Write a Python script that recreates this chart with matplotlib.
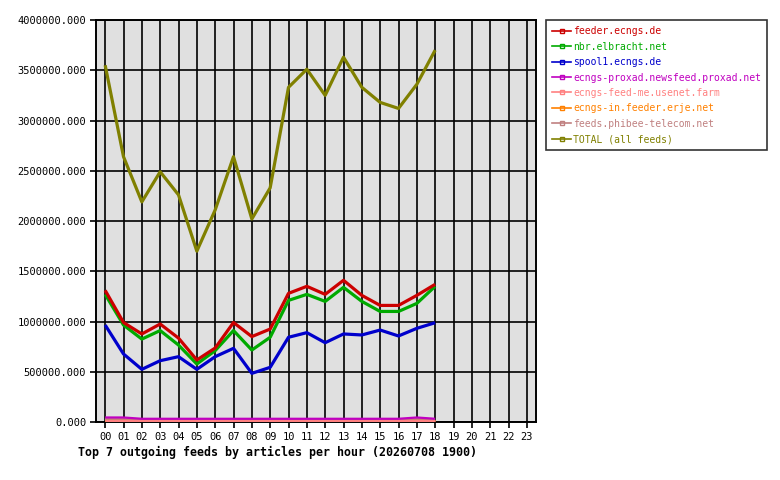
import matplotlib
matplotlib.use('Agg')
import matplotlib.pyplot as plt
from matplotlib.lines import Line2D

hours = list(range(19))
hour_labels = ['%02d' % h for h in range(24)]

feeder_ecngs = [1310000, 990000, 876000, 975000, 835000, 617000, 736000, 990000, 850000, 925000,
                1280000, 1350000, 1270000, 1410000, 1260000, 1160000, 1160000, 1260000, 1370000]
nbr_elbracht = [1270000, 965000, 825000, 910000, 766000, 577000, 710000, 910000, 716000, 843000,
                1210000, 1270000, 1200000, 1340000, 1200000, 1100000, 1100000, 1180000, 1350000]
spool1_ecngs = [965000, 677000, 524000, 610000, 650000, 524000, 650000, 733000, 484000, 544000,
                843000, 889000, 789000, 876000, 866000, 915000, 856000, 932000, 988000]
proxad = [45000, 45000, 32000, 32000, 32000, 32000, 32000, 32000, 32000, 32000,
          32000, 32000, 32000, 32000, 32000, 32000, 32000, 45000, 32000]
feed_me = [5000] * 19
erje = [6000] * 19
phibee = [18000] * 19
total = [3550000, 2640000, 2190000, 2490000, 2260000, 1700000, 2110000, 2640000, 2020000, 2330000,
         3330000, 3510000, 3250000, 3630000, 3330000, 3180000, 3120000, 3360000, 3700000]

names = ['feeder.ecngs.de', 'nbr.elbracht.net', 'spool1.ecngs.de',
         'ecngs-proxad.newsfeed.proxad.net', 'ecngs-feed-me.usenet.farm',
         'ecngs-in.feeder.erje.net', 'feeds.phibee-telecom.net', 'TOTAL (all feeds)']
series = [feeder_ecngs, nbr_elbracht, spool1_ecngs, proxad, feed_me, erje, phibee, total]
colors = ['#cc0000', '#00aa00', '#0000cc', '#c000c0', '#ff8080', '#ff8000', '#c08080', '#808000']
widths = [2.3, 2.3, 2.3, 1.6, 2.3, 2.3, 2.8, 2.3]
order = [6, 5, 4, 3, 2, 1, 0, 7]

mono = 'DejaVu Sans Mono'

fig = plt.figure(figsize=(7.8, 4.8), dpi=100)
ax = fig.add_axes([96 / 780, 58 / 480, 440 / 780, 402 / 480])
ax.set_facecolor('#e0e0e0')

for i in order:
    ax.plot(hours, series[i], color=colors[i], lw=widths[i], solid_capstyle='butt', zorder=3)

ax.set_xlim(-0.5, 23.5)
ax.set_ylim(0, 4000000)
ax.set_xticks(range(24))
ax.set_xticklabels(hour_labels, family=mono, fontsize=7.5)
yt = [k * 500000 for k in range(9)]
ax.set_yticks(yt)
ax.set_yticklabels(['%.3f' % v for v in yt], family=mono, fontsize=7.5)
ax.grid(True, color='black', lw=1.2)
ax.set_axisbelow(True)
ax.tick_params(length=4, width=1.2, color='black', pad=3)
for s in ax.spines.values():
    s.set_linewidth(1.4)

handles = [Line2D([0], [0], color=c, lw=1.2, marker='s', markersize=3,
                  markerfacecolor='none', markeredgecolor=c) for c in colors]
leg = fig.legend(handles, names, loc='upper left', bbox_to_anchor=(546 / 780, 1 - 20 / 480),
                 prop={'family': mono, 'size': 7.05}, frameon=True, fancybox=False,
                 edgecolor='black', handlelength=1.9, handletextpad=0.2, labelspacing=0.55,
                 borderpad=0.65, borderaxespad=0, numpoints=1)
leg.get_frame().set_linewidth(1.2)
for t, c in zip(leg.get_texts(), colors):
    t.set_color(c)

fig.text(78 / 780, 1 - 452 / 480, 'Top 7 outgoing feeds by articles per hour (20260708 1900)',
         family=mono, fontsize=8.4, fontweight='bold', va='center', ha='left')

fig.savefig('out.png', dpi=100)
